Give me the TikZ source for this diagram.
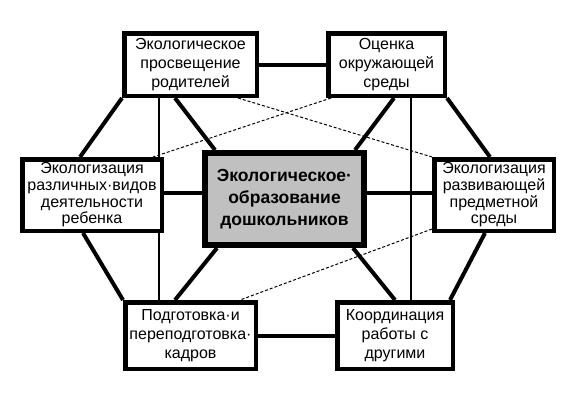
\documentclass[tikz,border=0pt]{standalone}
\usepackage{fontspec}
\setmainfont{Liberation Sans}
\usetikzlibrary{backgrounds}
\definecolor{centgray}{RGB}{192,192,192}
\begin{document}
\begin{tikzpicture}[x=1pt,y=-1pt,
  box/.style={draw, line width=4.5pt, fill=white, inner sep=0pt, align=center, font=\fontsize{16}{19}\selectfont},
  box4/.style={box, font=\fontsize{16}{16.7}\selectfont},
  cbox/.style={box, line width=6pt, fill=centgray, font=\fontsize{17.5}{22}\selectfont\bfseries},
  conn/.style={line width=4pt},
  thinconn/.style={line width=1.2pt},
  dashconn/.style={line width=1pt, dash pattern=on 3pt off 2pt}]
\useasboundingbox (0,0) rectangle (588,400);

\node[box, minimum width=132.5, minimum height=62.5] (TL) at (190.5,64.5) {Экологическое\\просвещение\\родителей};
\node[box, minimum width=116.5, minimum height=62.5] (TR) at (386.5,64.5) {Оценка\\окружающей\\среды};
\node[box4, minimum width=139.5, minimum height=71.5] (L) at (92,195) {Экологизация\\различных·видов\\деятельности\\ребенка};
\node[box4, minimum width=119.5, minimum height=71.5] (R) at (494,195) {Экологизация\\развивающей\\предметной\\среды};
\node[cbox, minimum width=159, minimum height=92] (C) at (284.5,199) {Экологическое·\\образование\\дошкольников};
\node[box, minimum width=130.5, minimum height=66.5] (BL) at (190.5,335.5) {Подготовка·и\\переподготовка·\\кадров};
\node[box, minimum width=115.5, minimum height=66.5] (BR) at (395,335.5) {Координация\\работы с\\другими};

\begin{scope}[on background layer]
\draw[conn] (TL.east) -- (TR.west);
\draw[conn] (TL.south west) -- ([xshift=-12pt]L.north);
\draw[conn] ([xshift=-15.5pt]TL.south) -- ([xshift=13pt]C.north west);
\draw[thinconn] ([xshift=-31.5pt]TL.south) -- ([xshift=-31.5pt]BL.north);
\draw[dashconn] ([xshift=47.5pt]TL.south) -- (R.north west);
\draw[dashconn] ([xshift=5pt]TR.south west) -- ([xshift=-11pt]L.north east);
\draw[conn] ([xshift=7.5pt]TR.south) -- ([xshift=-12pt]C.north east);
\draw[conn] (TR.south east) -- ([xshift=-4pt]R.north);
\draw[thinconn] ([xshift=24.5pt]TR.south) -- ([xshift=16pt]BR.north);
\draw[conn] ([yshift=2pt]L.east) -- ([yshift=2pt]L.east -| C.west);
\draw[conn] ([yshift=2pt]C.east |- R.west) -- ([yshift=2pt]R.west);
\draw[conn] ([xshift=-9pt]L.south) -- (BL.north west);
\draw[conn] ([xshift=15pt]C.south west) -- ([xshift=-15.5pt]BL.north);
\draw[dashconn] ([yshift=4pt]R.south west) -- ([xshift=49.5pt]BL.north);
\draw[conn] (BL.east) -- (BR.west);
\draw[conn] ([xshift=-14pt]C.south east) -- (BR.north);
\draw[conn] ([xshift=-9pt]R.south) -- ([xshift=-5pt]BR.north east);
\end{scope}
\end{tikzpicture}
\end{document}
